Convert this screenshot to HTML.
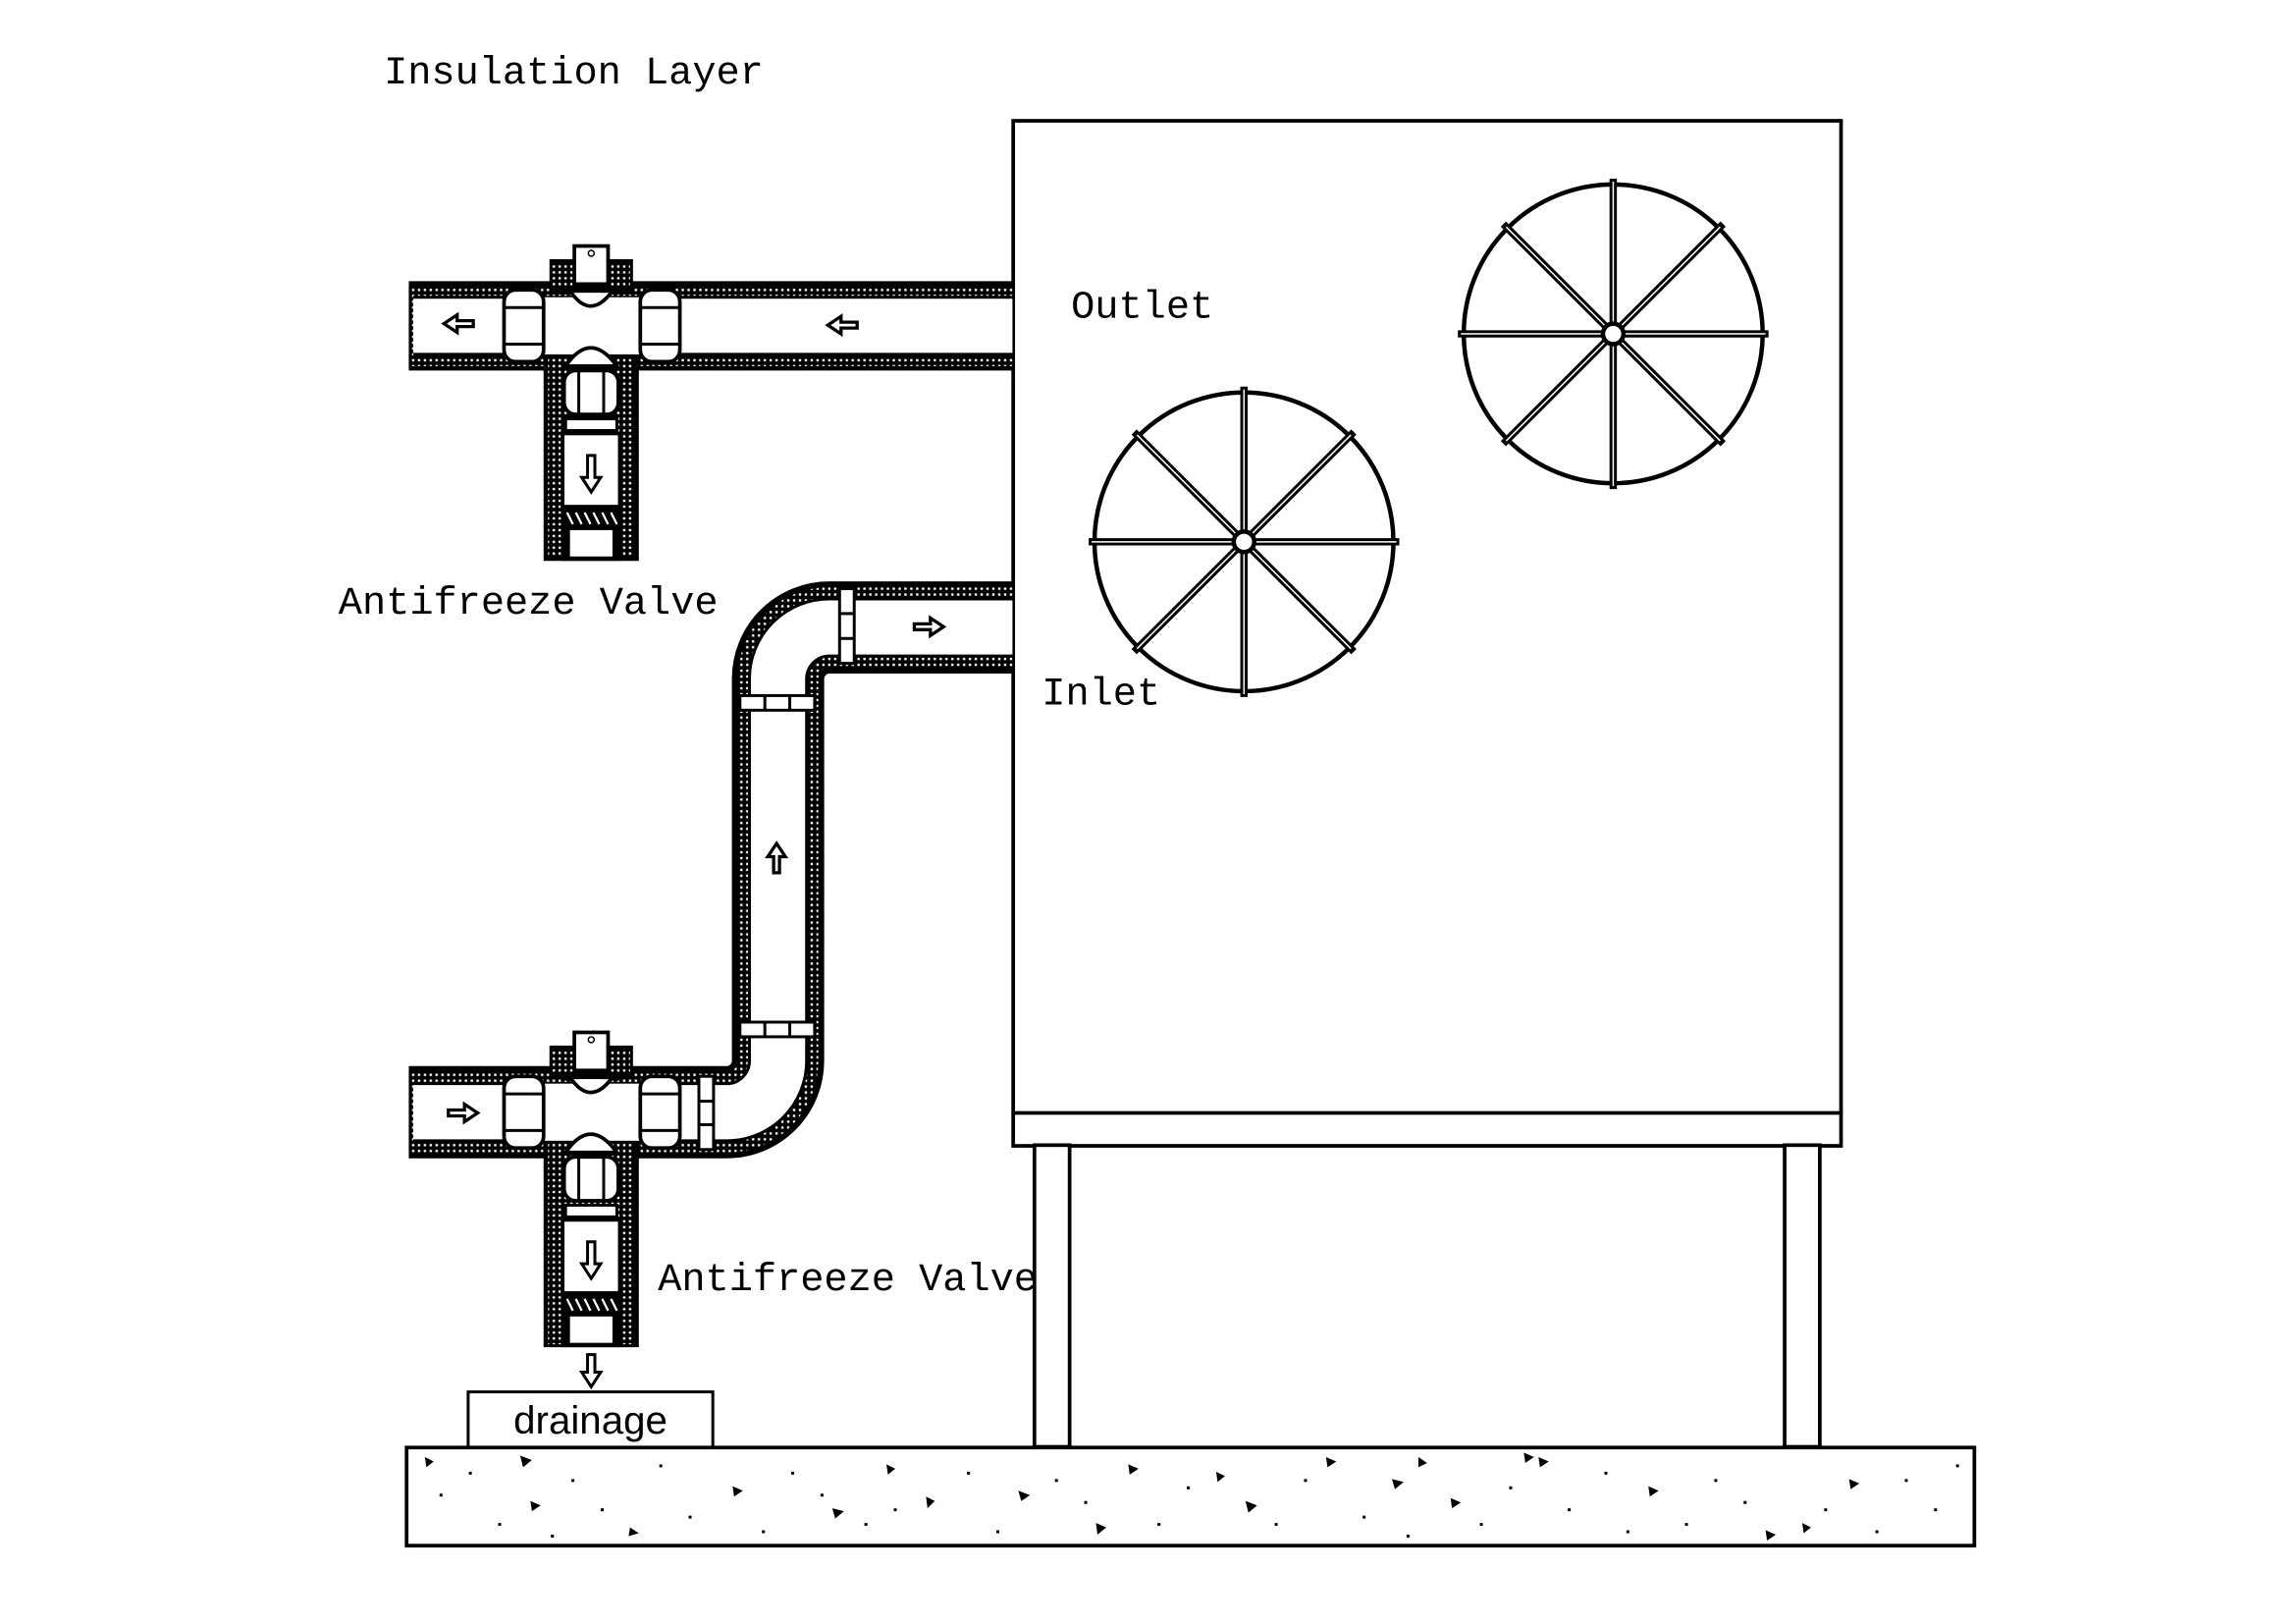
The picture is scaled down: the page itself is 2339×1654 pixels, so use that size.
<!DOCTYPE html>
<html><head><meta charset="utf-8"><style>html,body{margin:0;padding:0;background:#fff}svg{display:block}</style></head>
<body>
<svg width="2339" height="1654" viewBox="0 0 1567 1109" preserveAspectRatio="none" xmlns="http://www.w3.org/2000/svg">
<defs>
<pattern id="ins" width="4" height="4" patternUnits="userSpaceOnUse">
<rect width="4" height="4" fill="#000"/><rect x="1.2" y="1.2" width="1.6" height="1.6" fill="#fff"/>
</pattern>
<g id="fan">
<circle r="102" fill="none" stroke="#000" stroke-width="3"/>
<g stroke="#000" stroke-width="5" fill="none">
<line x1="-106" y1="0" x2="106" y2="0"/><line x1="0" y1="-106" x2="0" y2="106"/>
<line x1="-75" y1="-75" x2="75" y2="75"/><line x1="-75" y1="75" x2="75" y2="-75"/>
</g>
<g stroke="#fff" stroke-width="1" fill="none">
<line x1="-104" y1="0" x2="104" y2="0"/><line x1="0" y1="-104" x2="0" y2="104"/>
<line x1="-73" y1="-73" x2="73" y2="73"/><line x1="-73" y1="73" x2="73" y2="-73"/>
</g>
<circle r="7" fill="#fff" stroke="#000" stroke-width="3"/>
</g>
<g id="valve">
<rect x="376" y="178" width="55" height="20" fill="url(#ins)" stroke="#000" stroke-width="2"/>
<rect x="392" y="168" width="23" height="26" fill="#fff" stroke="#000" stroke-width="2.5"/>
<circle cx="403.5" cy="173" r="2" fill="none" stroke="#000"/>
<rect x="371" y="203" width="66" height="39" fill="#fff"/>
<path d="M384 200 L394 200 Q403 212 412 200 L423 200" fill="#fff" stroke="#000" stroke-width="2"/>
<path d="M390 200 Q403 218 417 200" fill="#fff" stroke="#000" stroke-width="2.5"/>
<path d="M386 250 Q403 225 421 250 Z" fill="#fff" stroke="#000" stroke-width="2.5"/>
<rect x="344" y="198" width="27" height="49" rx="8" fill="#fff" stroke="#000" stroke-width="2.5"/>
<line x1="344" y1="210" x2="371" y2="210" stroke="#000" stroke-width="2"/><line x1="344" y1="235" x2="371" y2="235" stroke="#000" stroke-width="2"/>
<rect x="437" y="198" width="27" height="49" rx="8" fill="#fff" stroke="#000" stroke-width="2.5"/>
<line x1="437" y1="210" x2="464" y2="210" stroke="#000" stroke-width="2"/><line x1="437" y1="235" x2="464" y2="235" stroke="#000" stroke-width="2"/>
<rect x="385" y="253" width="37" height="30" rx="8" fill="#fff" stroke="#000" stroke-width="2.5"/>
<line x1="395" y1="253" x2="395" y2="283" stroke="#000" stroke-width="2"/><line x1="412" y1="253" x2="412" y2="283" stroke="#000" stroke-width="2"/>
<rect x="386" y="286" width="35" height="8" fill="#fff" stroke="#000" stroke-width="2"/>
<rect x="384" y="296" width="39" height="50" fill="#fff" stroke="#000" stroke-width="2.5"/>
<path d="M401 311 h5 v15 h4 l-6.5 10 l-6.5 -10 h4 z" fill="#fff" stroke="#000" stroke-width="2"/>
<rect x="383" y="348" width="41" height="35" fill="#000"/>
<g stroke="#fff" stroke-width="1.5"><line x1="387" y1="350" x2="391" y2="358"/><line x1="393" y1="350" x2="397" y2="358"/><line x1="399" y1="350" x2="403" y2="358"/><line x1="405" y1="350" x2="409" y2="358"/><line x1="411" y1="350" x2="415" y2="358"/><line x1="417" y1="350" x2="421" y2="358"/></g>
<rect x="388" y="361" width="31" height="20" fill="#fff" stroke="#000" stroke-width="2"/>
</g>
<path id="arrowL" d="M0 0 l9 -6 v4 h11 v4 h-11 v4 z" fill="#fff" stroke="#000" stroke-width="2.2"/>
</defs>

<text x="262" y="57" font-family="Liberation Mono, monospace" font-size="27">Insulation Layer</text>

<rect x="691.5" y="82.5" width="565" height="700" fill="#fff" stroke="#000" stroke-width="2.5"/>
<line x1="691.5" y1="760" x2="1256.5" y2="760" stroke="#000" stroke-width="2.5"/>
<rect x="706" y="782" width="24" height="206" fill="#fff" stroke="#000" stroke-width="2.5"/>
<rect x="1218" y="782" width="24" height="206" fill="#fff" stroke="#000" stroke-width="2.5"/>
<use href="#fan" x="849" y="370"/>
<use href="#fan" x="1101" y="228"/>
<text x="731" y="217" font-family="Liberation Mono, monospace" font-size="27">Outlet</text>
<text x="711" y="481" font-family="Liberation Mono, monospace" font-size="27">Inlet</text>

<path d="M279 222.5 H691" stroke="#000" stroke-width="61" fill="none"/>
<path d="M279 222.5 H691" stroke="url(#ins)" stroke-width="55" fill="none"/>
<path d="M403.5 240 V383" stroke="#000" stroke-width="65" fill="none"/>
<path d="M403.5 240 V381" stroke="url(#ins)" stroke-width="59" fill="none"/>
<path d="M282 222.5 H691" stroke="#000" stroke-width="41" fill="none"/>
<path d="M282 222.5 H691" stroke="#fff" stroke-width="37" fill="none"/>
<use href="#valve"/>
<use href="#arrowL" x="303" y="221"/>
<use href="#arrowL" x="565" y="222"/>
<text x="231" y="419" font-family="Liberation Mono, monospace" font-size="27">Antifreeze Valve</text>

<path d="M279 759.5 H496 A35 35 0 0 0 531 724.5 V463.5 A35 35 0 0 1 566 428.5 H691" stroke="#000" stroke-width="63" fill="none"/>
<path d="M279 759.5 H496 A35 35 0 0 0 531 724.5 V463.5 A35 35 0 0 1 566 428.5 H691" stroke="url(#ins)" stroke-width="55" fill="none"/>
<path d="M403.5 777 V920" stroke="#000" stroke-width="65" fill="none"/>
<path d="M403.5 777 V918" stroke="url(#ins)" stroke-width="59" fill="none"/>
<path d="M282 759.5 H496 A35 35 0 0 0 531 724.5 V463.5 A35 35 0 0 1 566 428.5 H691" stroke="#000" stroke-width="41" fill="none"/>
<path d="M282 759.5 H496 A35 35 0 0 0 531 724.5 V463.5 A35 35 0 0 1 566 428.5 H691" stroke="#fff" stroke-width="37" fill="none"/>
<g transform="translate(0,537)"><use href="#valve"/></g>
<rect x="477" y="735" width="10" height="50" fill="#fff" stroke="#000" stroke-width="2"/>
<line x1="477" y1="752" x2="487" y2="752" stroke="#000" stroke-width="2"/><line x1="477" y1="768" x2="487" y2="768" stroke="#000" stroke-width="2"/>
<rect x="505" y="475" width="51" height="10" fill="#fff" stroke="#000" stroke-width="2"/>
<line x1="522" y1="475" x2="522" y2="485" stroke="#000" stroke-width="2"/><line x1="539" y1="475" x2="539" y2="485" stroke="#000" stroke-width="2"/>
<rect x="505" y="698" width="51" height="10" fill="#fff" stroke="#000" stroke-width="2"/>
<line x1="522" y1="698" x2="522" y2="708" stroke="#000" stroke-width="2"/><line x1="539" y1="698" x2="539" y2="708" stroke="#000" stroke-width="2"/>
<rect x="573" y="402" width="10" height="51" fill="#fff" stroke="#000" stroke-width="2"/>
<line x1="573" y1="419" x2="583" y2="419" stroke="#000" stroke-width="2"/><line x1="573" y1="436" x2="583" y2="436" stroke="#000" stroke-width="2"/>
<use href="#arrowL" transform="translate(326,760) rotate(180)"/>
<use href="#arrowL" transform="translate(644,428) rotate(180)"/>
<use href="#arrowL" transform="translate(530,576) rotate(90)"/>
<path d="M401 925 h5 v12 h4 l-6.5 10 l-6.5 -10 h4 z" fill="#fff" stroke="#000" stroke-width="2"/>
<text x="449" y="881" font-family="Liberation Mono, monospace" font-size="27">Antifreeze Valve</text>

<rect x="319.5" y="950.5" width="167" height="38" fill="#fff" stroke="#000" stroke-width="2"/>
<text x="403" y="979" text-anchor="middle" font-family="Liberation Sans, sans-serif" font-size="27">drainage</text>

<rect x="277.5" y="988.5" width="1070" height="67" fill="#fff" stroke="#000" stroke-width="2.5"/>
<g fill="#000">
<path d="M355 994 l8 3 l-6 5 z"/><path d="M362 1025 l7 3 l-6 4 z"/><path d="M430 1043 l6 4 l-7 2 z"/><path d="M500 1015 l7 3 l-6 4 z"/>
<path d="M568 1030 l8 2 l-6 5 z"/><path d="M632 1022 l6 3 l-5 5 z"/><path d="M695 1018 l8 3 l-6 4 z"/><path d="M748 1040 l7 3 l-6 5 z"/>
<path d="M770 1000 l7 3 l-6 4 z"/><path d="M830 1005 l6 3 l-5 4 z"/><path d="M850 1025 l8 3 l-6 5 z"/><path d="M905 995 l7 3 l-6 4 z"/>
<path d="M950 1010 l8 2 l-6 5 z"/><path d="M968 995 l6 4 l-6 3 z"/><path d="M990 1023 l7 3 l-6 4 z"/><path d="M1040 992 l7 3 l-6 4 z"/>
<path d="M1050 995 l7 3 l-6 4 z"/><path d="M1125 1015 l7 3 l-6 4 z"/><path d="M1205 1045 l7 3 l-6 4 z"/><path d="M1262 1010 l7 3 l-6 4 z"/><path d="M1230 1040 l6 3 l-5 4 z"/>
<path d="M290 995 l6 3 l-5 4 z"/><path d="M605 1000 l6 3 l-5 4 z"/>
</g>
<g fill="#000">
<rect x="300" y="1020" width="2" height="2"/><rect x="320" y="1005" width="2" height="2"/><rect x="340" y="1040" width="2" height="2"/><rect x="390" y="1010" width="2" height="2"/>
<rect x="410" y="1030" width="2" height="2"/><rect x="450" y="1000" width="2" height="2"/><rect x="470" y="1035" width="2" height="2"/><rect x="520" y="1045" width="2" height="2"/>
<rect x="540" y="1005" width="2" height="2"/><rect x="590" y="1040" width="2" height="2"/><rect x="610" y="1030" width="2" height="2"/><rect x="660" y="1005" width="2" height="2"/>
<rect x="680" y="1045" width="2" height="2"/><rect x="720" y="1010" width="2" height="2"/><rect x="740" y="1025" width="2" height="2"/><rect x="790" y="1040" width="2" height="2"/>
<rect x="810" y="1015" width="2" height="2"/><rect x="870" y="1040" width="2" height="2"/><rect x="890" y="1010" width="2" height="2"/><rect x="930" y="1035" width="2" height="2"/>
<rect x="1010" y="1040" width="2" height="2"/><rect x="1030" y="1015" width="2" height="2"/><rect x="1070" y="1030" width="2" height="2"/><rect x="1095" y="1005" width="2" height="2"/>
<rect x="1150" y="1040" width="2" height="2"/><rect x="1170" y="1010" width="2" height="2"/><rect x="1190" y="1025" width="2" height="2"/><rect x="1245" y="1030" width="2" height="2"/>
<rect x="1280" y="1045" width="2" height="2"/><rect x="1300" y="1010" width="2" height="2"/><rect x="1320" y="1030" width="2" height="2"/><rect x="1335" y="1000" width="2" height="2"/>
<rect x="376" y="1048" width="2" height="2"/><rect x="560" y="1020" width="2" height="2"/><rect x="960" y="1048" width="2" height="2"/><rect x="1110" y="1045" width="2" height="2"/>
</g>
</svg>
</body></html>
